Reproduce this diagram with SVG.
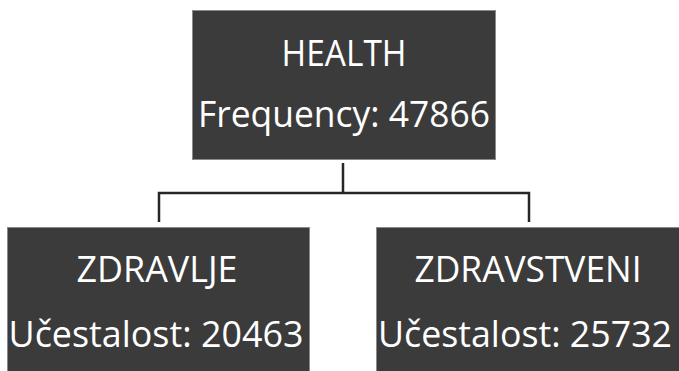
<svg xmlns="http://www.w3.org/2000/svg" width="679" height="371" viewBox="0 0 679 371">
  <style>
    .box { fill: #3b3b3b; stroke: #8a8a8a; stroke-width: 1; }
    .lbl { fill: #ffffff; font-family: "Open Sans", "Liberation Sans", sans-serif; font-size: 37px; text-anchor: middle; }
    .link { fill: none; stroke: #262626; stroke-width: 2.5; }
  </style>
  <rect width="679" height="371" fill="#ffffff"/>
  <g id="connectors">
    <path class="link" d="M343,163 V193 M159,222 V193 H529 V222"/>
  </g>
  <g id="node-health">
    <rect class="box" x="192.5" y="10.5" width="303" height="149"/>
    <text class="lbl" x="344" y="66" textLength="125" lengthAdjust="spacingAndGlyphs">HEALTH</text>
    <text class="lbl" x="344" y="127" textLength="292" lengthAdjust="spacingAndGlyphs">Frequency: 47866</text>
  </g>
  <g id="node-zdravlje">
    <rect class="box" x="7.5" y="227.5" width="302" height="150"/>
    <text class="lbl" x="157" y="282" textLength="161" lengthAdjust="spacingAndGlyphs">ZDRAVLJE</text>
    <text class="lbl" x="156" y="347" textLength="295" lengthAdjust="spacingAndGlyphs">Učestalost: 20463</text>
  </g>
  <g id="node-zdravstveni">
    <rect class="box" x="376.5" y="227.5" width="310" height="150"/>
    <text class="lbl" x="528" y="282" textLength="227" lengthAdjust="spacingAndGlyphs">ZDRAVSTVENI</text>
    <text class="lbl" x="525" y="347" textLength="294" lengthAdjust="spacingAndGlyphs">Učestalost: 25732</text>
  </g>
</svg>
